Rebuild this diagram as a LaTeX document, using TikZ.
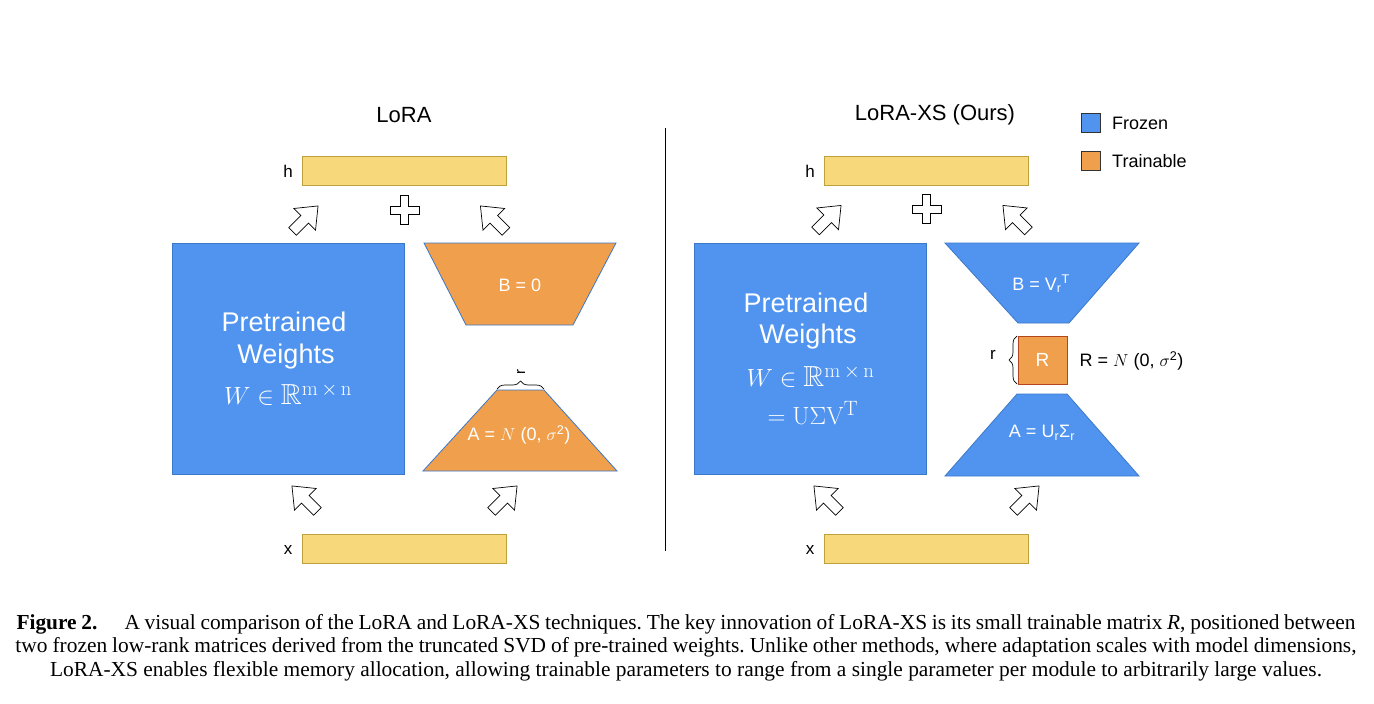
\documentclass[tikz,border=0pt]{standalone}
\usepackage{amsmath,amssymb}
\usepackage[no-math]{fontspec}
\setmainfont{Liberation Sans}
\newfontfamily\capfont{Liberation Serif}
\usetikzlibrary{shapes.arrows,decorations.pathreplacing}
\definecolor{frozenblue}{RGB}{80,148,240}
\definecolor{frozenedge}{RGB}{60,120,200}
\definecolor{trainorange}{RGB}{240,160,76}
\definecolor{rboxedge}{RGB}{180,70,30}
\definecolor{vecyellow}{RGB}{247,217,123}
\definecolor{vecedge}{RGB}{190,160,60}
\newcommand{\fsz}[1]{\fontsize{#1}{#1}\selectfont}
\begin{document}
\begin{tikzpicture}[x=1pt,y=-1pt,
  frozenbox/.style={draw=frozenedge, fill=frozenblue, line width=0.8pt, inner sep=0pt},
  trainbox/.style={draw=rboxedge, fill=trainorange, line width=0.8pt, inner sep=0pt},
  frozentrap/.style={draw=frozenedge, fill=frozenblue, line width=0.8pt, line join=miter},
  traintrap/.style={draw=frozenedge, fill=trainorange, line width=0.8pt, line join=miter},
  vecbar/.style={draw=vecedge, fill=vecyellow, line width=0.8pt, minimum width=204pt, minimum height=29pt, inner sep=0pt},
  blockarrow/.style={shape=single arrow, draw=black, fill=white, line width=0.7pt,
     minimum height=36pt, single arrow head extend=10pt,
     single arrow tip angle=78, inner xsep=0pt, inner ysep=5pt, text height=0pt, text depth=0pt, text width=0pt},
  plussign/.style={draw=black, fill=white, line width=0.7pt},
  title/.style={font=\fsz{22}},
  lbl/.style={font=\fsz{17}},
  wtext/.style={text=white, font=\fsz{27}},
  wmath/.style={text=white, font=\fsz{29}},
  intext/.style={text=white, font=\fsz{18}},
  legendsq/.style={draw=black!80, line width=0.8pt, minimum width=19pt, minimum height=19pt, inner sep=0pt},
  brc/.style={decorate, decoration={brace, amplitude=8pt}, line width=0.7pt},
  capline/.style={font=\capfont\fsz{21.4}\frenchspacing, inner sep=0pt, anchor=base},
]
\useasboundingbox (0,0) rectangle (1374,704);
\fill[white] (0,0) rectangle (1374,704);

% titles
\node[title] (t1) at (404,115) {LoRA};
\node[title] (t2) at (935,115) {LoRA-XS (Ours)};

% legend
\node[legendsq, fill=frozenblue] (lgf) at (1091,122.5) {};
\node[legendsq, fill=trainorange] (lgt) at (1091,160.5) {};
\node[font=\fsz{18}, anchor=west, inner sep=0pt] (lgfl) at (1112,123) {Frozen};
\node[font=\fsz{18}, anchor=west, inner sep=0pt] (lgtl) at (1112,161) {Trainable};

% divider
\draw[line width=0.8pt] (665,128) -- (665,551);

% ---------------- LoRA ----------------
\node[vecbar] (h1) at (404,170.5) {};
\node[lbl] (h1l) at (288,171) {h};
\node[vecbar] (x1) at (404,548.5) {};
\node[lbl] (x1l) at (288,550) {x};

\node[blockarrow, rotate=45] (a1) at (303,221) {};
\node[blockarrow, rotate=135] (a2) at (495.5,221) {};
\node[blockarrow, rotate=135] (a3) at (307,501) {};
\node[blockarrow, rotate=45] (a4) at (502,501) {};
\draw[plussign, shift={(404.5,210)}] (-4,-14.5) -- (4,-14.5) -- (4,-4) -- (14.5,-4) -- (14.5,4) -- (4,4)
   -- (4,14.5) -- (-4,14.5) -- (-4,4) -- (-14.5,4) -- (-14.5,-4) -- (-4,-4) -- cycle;

\node[frozenbox, minimum width=232pt, minimum height=231pt] (W1) at (288,358.5) {};
\node[wtext] (W1a) at (284,322) {Pretrained};
\node[wtext] (W1b) at (286,357) {Weights};
\node[wmath] (W1c) at (288,394) {$W \in \mathbb{R}^{\mathrm{m}\,\times\,\mathrm{n}}$};

\draw[traintrap] (424,243) -- (616,243) -- (573,325) -- (466,325) -- cycle;
\node[intext] (B1) at (520,285) {B = 0};
\draw[traintrap] (497,390) -- (544,390) -- (617,471) -- (423,471) -- cycle;
\node[intext] (A1) at (519,435) {A = $N$ (0, $\sigma$\textsuperscript{2})};
\draw[brc] (497,389) -- (544,389);
\node[font=\fsz{15}, rotate=90] (r1) at (521,372) {r};

% ---------------- LoRA-XS ----------------
\node[vecbar] (h2) at (926.5,170.5) {};
\node[lbl] (h2l) at (810,171) {h};
\node[vecbar] (x2) at (926.5,548.5) {};
\node[lbl] (x2l) at (810,550) {x};

\node[blockarrow, rotate=45] (b1) at (826,220.5) {};
\node[blockarrow, rotate=135] (b2) at (1018,220.5) {};
\node[blockarrow, rotate=135] (b3) at (829,501) {};
\node[blockarrow, rotate=45] (b4) at (1024,501) {};
\draw[plussign, shift={(926.7,209)}] (-4,-14.5) -- (4,-14.5) -- (4,-4) -- (14.5,-4) -- (14.5,4) -- (4,4)
   -- (4,14.5) -- (-4,14.5) -- (-4,4) -- (-14.5,4) -- (-14.5,-4) -- (-4,-4) -- cycle;

\node[frozenbox, minimum width=232pt, minimum height=231pt] (W2) at (810,358.5) {};
\node[wtext] (W2a) at (806,303) {Pretrained};
\node[wtext] (W2b) at (808,337) {Weights};
\node[wmath] (W2c) at (810.5,376) {$W \in \mathbb{R}^{\mathrm{m}\,\times\,\mathrm{n}}$};
\node[wmath] (W2d) at (813,413) {$= \mathrm{U}\Sigma \mathrm{V}^{\mathrm{T}}$};

\draw[frozentrap] (945,243) -- (1139,243) -- (1069,323) -- (1018,323) -- cycle;
\node[intext] (B2) at (1041,284) {B = V\textsubscript{r}\textsuperscript{T}};
\node[trainbox, minimum width=49pt, minimum height=48pt] (R) at (1042.5,360) {};
\node[text=white, font=\fsz{19}] (Rt) at (1042.5,360) {R};
\draw[brc] (1017,384) -- (1017,336);
\node[lbl] (r2) at (993,355) {r};
\node[font=\fsz{18}] (Rdef) at (1131.5,361) {R = $N$ (0, $\sigma$\textsuperscript{2})};
\draw[frozentrap] (1017,394) -- (1067,394) -- (1139,476) -- (945,476) -- cycle;
\node[intext] (A2) at (1042,433) {A = U\textsubscript{r}Σ\textsubscript{r}};

% caption
\node[capline] (cap1) at (686,629.3) {\hbox to 1339pt{\textbf{Figure 2.}\hspace{27pt}A visual comparison of the LoRA and LoRA-XS techniques. The key innovation of LoRA-XS is its small trainable matrix \textit{R}, positioned between}};
\node[capline] (cap2) at (686,652.8) {\hbox to 1341pt{two frozen low-rank matrices derived from the truncated SVD of pre-trained weights. Unlike other methods, where adaptation scales with model dimensions,}};
\node[capline] (cap3) at (686,676.3) {LoRA-XS enables flexible memory allocation, allowing trainable parameters to range from a single parameter per module to arbitrarily large values.};
\end{tikzpicture}
\end{document}
